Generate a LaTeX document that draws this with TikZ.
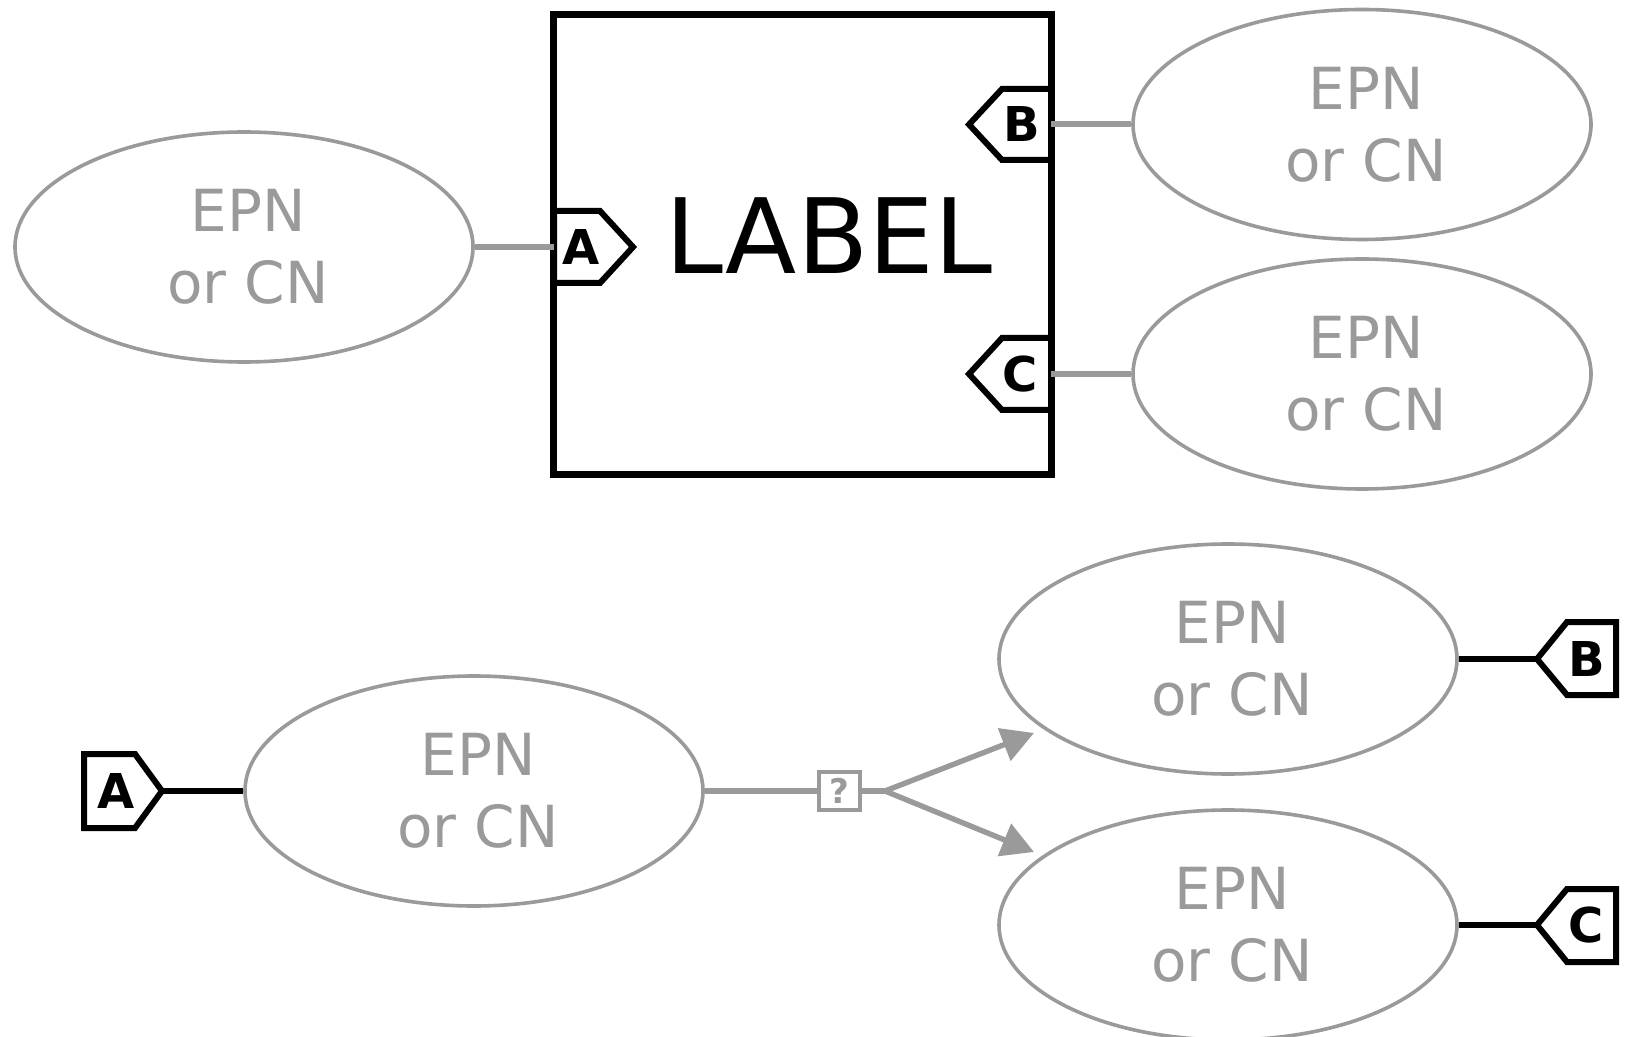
\documentclass[tikz,border=0pt]{standalone}
\usepackage{fontspec}
\setmainfont{DejaVu Sans}
\usetikzlibrary{shapes.geometric,arrows.meta}
\definecolor{pgray}{HTML}{9A9A9A}
\tikzset{
  epn/.style={ellipse, draw=pgray, line width=1.8pt, minimum width=229pt, minimum height=115pt, inner sep=0pt,
    text=pgray, align=center, font=\fontsize{29}{36}\selectfont},
  epntext/.style={text=pgray, align=center, font=\fontsize{29}{36}\selectfont, inner sep=0pt},
  tagshape/.style={draw=black, fill=white, line width=3pt, line join=miter},
  taglbl/.style={font=\fontsize{24}{24}\selectfont\bfseries, inner sep=0pt},
  gline/.style={draw=pgray, line width=3pt},
  bline/.style={draw=black, line width=2.8pt},
  garrow/.style={draw=pgray, line width=2.7pt, -{Triangle[length=16pt,width=17pt]}},
}
\begin{document}
\begin{tikzpicture}[x=0.5pt,y=-0.5pt]
\useasboundingbox (0,0) rectangle (1628,1037);
% ---------- top part ----------
\node[draw=black, line width=3.5pt, minimum width=249pt, minimum height=230pt, inner sep=0pt] (box) at (802,245) {};
\node[font=\fontsize{52}{52}\selectfont, inner sep=0pt] (lbl) at (829,236) {LABEL};
\node[epn] (e1) at (244,247) {};
\node[epntext] at ([xshift=2pt]e1.center) {EPN\\or CN};
\node[epn] (e2) at (1362,124.5) {};
\node[epntext] at ([xshift=2pt]e2.center) {EPN\\or CN};
\node[epn] (e3) at (1362,374) {};
\node[epntext] at ([xshift=2pt]e3.center) {EPN\\or CN};
% tags on box
\draw[tagshape] (554,211) -- (600,211) -- (633,247) -- (600,283) -- (554,283) -- cycle;
\node[taglbl] (ta) at (581,247) {A};
\coordinate (taL) at (554,247);
\draw[tagshape] (1051,89) -- (1002,89) -- (969,124.5) -- (1002,160) -- (1051,160) -- cycle;
\node[taglbl] (tb) at (1022,124.5) {B};
\coordinate (tbR) at (1051,124.5);
\draw[tagshape] (1051,338) -- (1002,338) -- (969,374) -- (1002,410) -- (1051,410) -- cycle;
\node[taglbl] (tc) at (1020,374) {C};
\coordinate (tcR) at (1051,374);
\draw[gline] (e1.east) -- (taL);
\draw[gline] (tbR) -- (e2.west);
\draw[gline] (tcR) -- (e3.west);
% ---------- bottom part ----------
\node[epn] (e4) at (474,791) {};
\node[epntext] at ([xshift=2pt]e4.center) {EPN\\or CN};
\node[epn] (e5) at (1228,659) {};
\node[epntext] at ([xshift=2pt]e5.center) {EPN\\or CN};
\node[epn] (e6) at (1228,925) {};
\node[epntext] at ([xshift=2pt]e6.center) {EPN\\or CN};
\node[draw=pgray, line width=1.8pt, fill=white, minimum width=20.5pt, minimum height=19pt, inner sep=0pt,
  text=pgray, font=\fontsize{17}{17}\selectfont\bfseries] (q) at (839.5,791) {?};
\coordinate (br) at (885,791);
\coordinate (a1) at (1034,733);
\coordinate (a2) at (1034,852);
\draw[gline] (e4.east) -- (q.west);
\draw[gline] (q.east) -- (br);
\draw[garrow] (br) -- (a1);
\draw[garrow] (br) -- (a2);
% bottom tags
\draw[tagshape] (84,754) -- (135,754) -- (162,791) -- (135,828) -- (84,828) -- cycle;
\node[taglbl] (tA) at (116,791) {A};
\coordinate (tAtip) at (162,791);
\draw[tagshape] (1616,622) -- (1567,622) -- (1537,659) -- (1567,695) -- (1616,695) -- cycle;
\node[taglbl] (tB) at (1587,659) {B};
\coordinate (tBtip) at (1537,659);
\draw[tagshape] (1616,889) -- (1567,889) -- (1537,925) -- (1567,962) -- (1616,962) -- cycle;
\node[taglbl] (tC) at (1586,925) {C};
\coordinate (tCtip) at (1537,925);
\draw[bline] (tAtip) -- (e4.west);
\draw[bline] (e5.east) -- (tBtip);
\draw[bline] (e6.east) -- (tCtip);
\end{tikzpicture}
\end{document}
